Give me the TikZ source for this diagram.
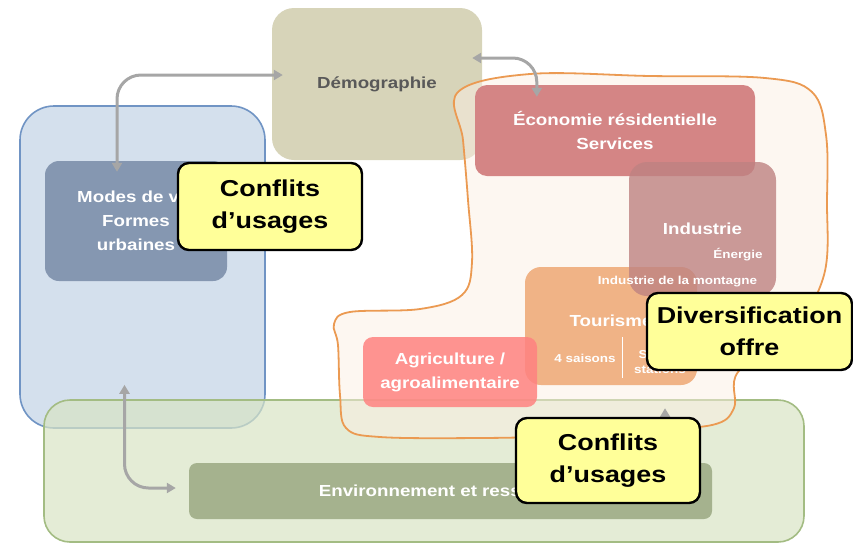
\documentclass[tikz,border=0pt]{standalone}
\usepackage{fontspec}
\newfontfamily\labfont{Liberation Sans}[FakeStretch=1.17]
\usetikzlibrary{arrows.meta}

\definecolor{democ}{HTML}{D7D4B9}
\definecolor{bluezc}{HTML}{D4E0ED}
\definecolor{bluebc}{HTML}{7094C4}
\definecolor{modesc}{HTML}{8597B1}
\definecolor{greenzc}{HTML}{D8E4C4}
\definecolor{greenbc}{HTML}{A3BC83}
\definecolor{envc}{HTML}{A5B28E}
\definecolor{blobc}{HTML}{FBEFE3}
\definecolor{blobbc}{HTML}{EB9A52}
\definecolor{ecoc}{HTML}{D48585}
\definecolor{indc}{HTML}{BE8282}
\definecolor{touric}{HTML}{EEA874}
\definecolor{agric}{HTML}{FF8280}
\definecolor{callc}{HTML}{FFFF99}
\definecolor{linkc}{HTML}{A6A6A6}

\begin{document}
\begin{tikzpicture}[
    x=1pt,y=-1pt,
    every node/.style={inner sep=0pt,align=center},
    box/.style={rounded corners=12pt,text=white,
                font=\labfont\bfseries\fontsize{16}{24}\selectfont},
    zone/.style={line width=1.6pt},
    tag/.style={text=white,font=\labfont\bfseries\fontsize{11.5}{15}\selectfont},
    call/.style={draw=black,line width=2.4pt,fill=callc,rounded corners=11pt,
                 font=\labfont\bfseries\fontsize{23}{32}\selectfont},
    link/.style={{Triangle[length=9pt,width=10pt]}-{Triangle[length=9pt,width=10pt]},
                 line width=3pt,draw=linkc,rounded corners=24pt},
  ]
    \useasboundingbox (0,0) rectangle (853,544);

    % zones
    \node[box,fill=democ,text=black!65,rounded corners=22pt,
          minimum width=210pt,minimum height=152pt] (demo) at (377,84) {Démographie};
    \node[zone,draw=bluebc,fill=bluezc,rounded corners=34pt,
          minimum width=245pt,minimum height=322pt] (vie) at (142.5,267) {};
    \node[box,fill=modesc,rounded corners=14pt,
          minimum width=182pt,minimum height=120pt] (modes) at (136,221) {Modes de vie\\Formes\\urbaines};
    \node[zone,draw=greenbc,fill=greenzc,fill opacity=0.7,rounded corners=26pt,
          minimum width=760pt,minimum height=142pt] (milieu) at (424,471) {};
    \node[box,fill=envc,rounded corners=8pt,
          minimum width=523pt,minimum height=56pt] (env) at (450.5,491) {Environnement et ressources};

    % economie
    \draw[line width=1.8pt,draw=blobbc,fill=blobc,fill opacity=0.5]
      plot[smooth cycle,tension=0.6] coordinates {
        (458,92) (530,74) (650,76) (765,78) (812,92) (826,135) (827,200)
        (824,275) (790,335) (738,372) (734,408) (712,425) (640,430) (560,436)
        (480,438) (380,437) (346,428) (340,395) (338,345) (334,324) (350,312)
        (420,309) (462,295) (472,262) (468,200) (463,140)};
    \node[box,fill=ecoc,minimum width=280pt,minimum height=91pt] (eco) at (615,130.5)
      {Économie résidentielle\\Services};
    \node[box,fill=touric,fill opacity=0.85,rounded corners=16pt,
          minimum width=172pt,minimum height=118pt] (touri) at (611,326) {};
    \node[box,fill=agric,fill opacity=0.85,text opacity=1,rounded corners=10pt,
          minimum width=174pt,minimum height=70pt] (agri) at (450,372) {Agriculture /\\agroalimentaire};
    \node[box,fill=indc,fill opacity=0.8,text opacity=1,rounded corners=18pt,
          minimum width=147pt,minimum height=134pt] (indus) at (702.5,229) {Industrie};
    \node[tag] (energie) at (738,255) {Énergie};
    \node[tag] (montagne) at (677.5,282) {Industrie de la montagne};
    \node[box] (tourisme) at (611,321) {Tourisme};
    \node[tag] (saisons) at (585,358) {4 saisons};
    \node[tag] (stations) at (660,362) {Sports\\stations};
    \draw[white,line width=1pt] ([shift={(11,11)}]touri.center) -- ([shift={(11,52)}]touri.center);

    % liens
    \draw[link] ([shift={(-19,11)}]modes.north) |- ([shift={(11,-9)}]demo.west);
    \draw[link] ([shift={(-10,-26)}]demo.east) -| ([shift={(62,12)}]eco.north west);
    \draw[link] ([shift={(-18,-44)}]vie.south) |- ([shift={(-13,-3)}]env.west);
    \draw[link,-{Triangle[length=9pt,width=10pt]},rounded corners=0pt]
      ([xshift=215pt]env.north) -- ([shift={(54,23)}]touri.south);

    % bulles
    \node[call,minimum width=184pt,minimum height=87pt] (conf1) at (270,206.5) {Conflits\\d’usages};
    \node[call,minimum width=205pt,minimum height=77pt] (divers) at (749.5,331.5) {Diversification\\offre};
    \node[call,minimum width=184pt,minimum height=85pt] (conf2) at (608,460.5) {Conflits\\d’usages};
\end{tikzpicture}
\end{document}
